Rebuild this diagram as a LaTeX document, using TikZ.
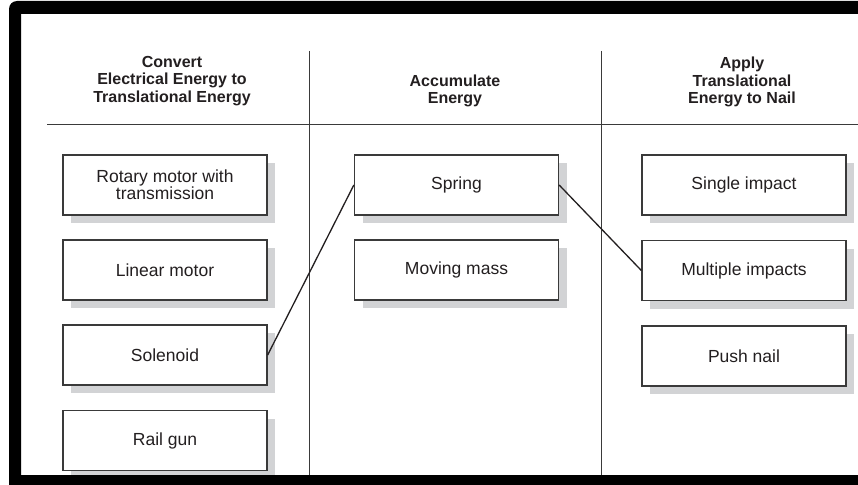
\documentclass[tikz,border=0pt]{standalone}
\usepackage{fontspec}
\setmainfont{Liberation Sans}
\usetikzlibrary{shadows}
\definecolor{ink}{HTML}{231F20}
\definecolor{rule}{HTML}{3A3A3A}
\definecolor{shade}{HTML}{D2D3D5}
\begin{document}
\begin{tikzpicture}[x=1pt,y=-1pt,
  optbox/.style={draw=rule, line width=1.3pt, fill=white,
    minimum width=204pt, minimum height=60pt, inner sep=0pt,
    align=center, text=ink, font=\fontsize{17.5}{17}\selectfont,
    drop shadow={shadow xshift=8pt, shadow yshift=-8pt, fill=shade, opacity=1}},
  header/.style={align=center, text=ink, font=\fontsize{16}{17.5}\selectfont\bfseries},
  divider/.style={draw=rule, line width=0.9pt},
  link/.style={draw=ink, line width=1.3pt}]
\useasboundingbox (0,0) rectangle (858,484);
\fill[white] (0,0) rectangle (858,484);

% column dividers and header rule
\draw[divider] (47,124) -- (858,124);
\draw[divider] (309,51) -- (309,476);
\draw[divider] (601,51) -- (601,476);

% column headings
\node[header] (h1) at (172,81) {Convert\\Electrical Energy to\\Translational Energy};
\node[header] (h2) at (455,91) {Accumulate\\Energy};
\node[header] (h3) at (742,82) {Apply\\Translational\\Energy to Nail};

% options: electrical to translational
\node[optbox] (rot) at (165,185) {Rotary motor with\\transmission};
\node[optbox] (lin) at (165,270) {Linear motor};
\node[optbox] (sol) at (165,355) {Solenoid};
\node[optbox] (rail) at (165,440.5) {Rail gun};

% options: energy storage
\node[optbox] (spr) at (456.5,185) {Spring};
\node[optbox] (mass) at (456.5,270) {Moving mass};

% options: delivery to nail
\node[optbox] (single) at (744,185) {Single impact};
\node[optbox] (multi) at (744,270.5) {Multiple impacts};
\node[optbox] (push) at (744,356) {Push nail};

% chosen combination
\draw[link] (sol.east) -- (spr.west);
\draw[link] (spr.east) -- (multi.west);

% heavy frame, open on the right
\fill[black, even odd rule]
  [rounded corners=8pt] (9,1) -- (880,1) -- (880,500) -- (9,500) -- cycle
  [sharp corners] (21,14) rectangle (880,475);
\end{tikzpicture}
\end{document}
